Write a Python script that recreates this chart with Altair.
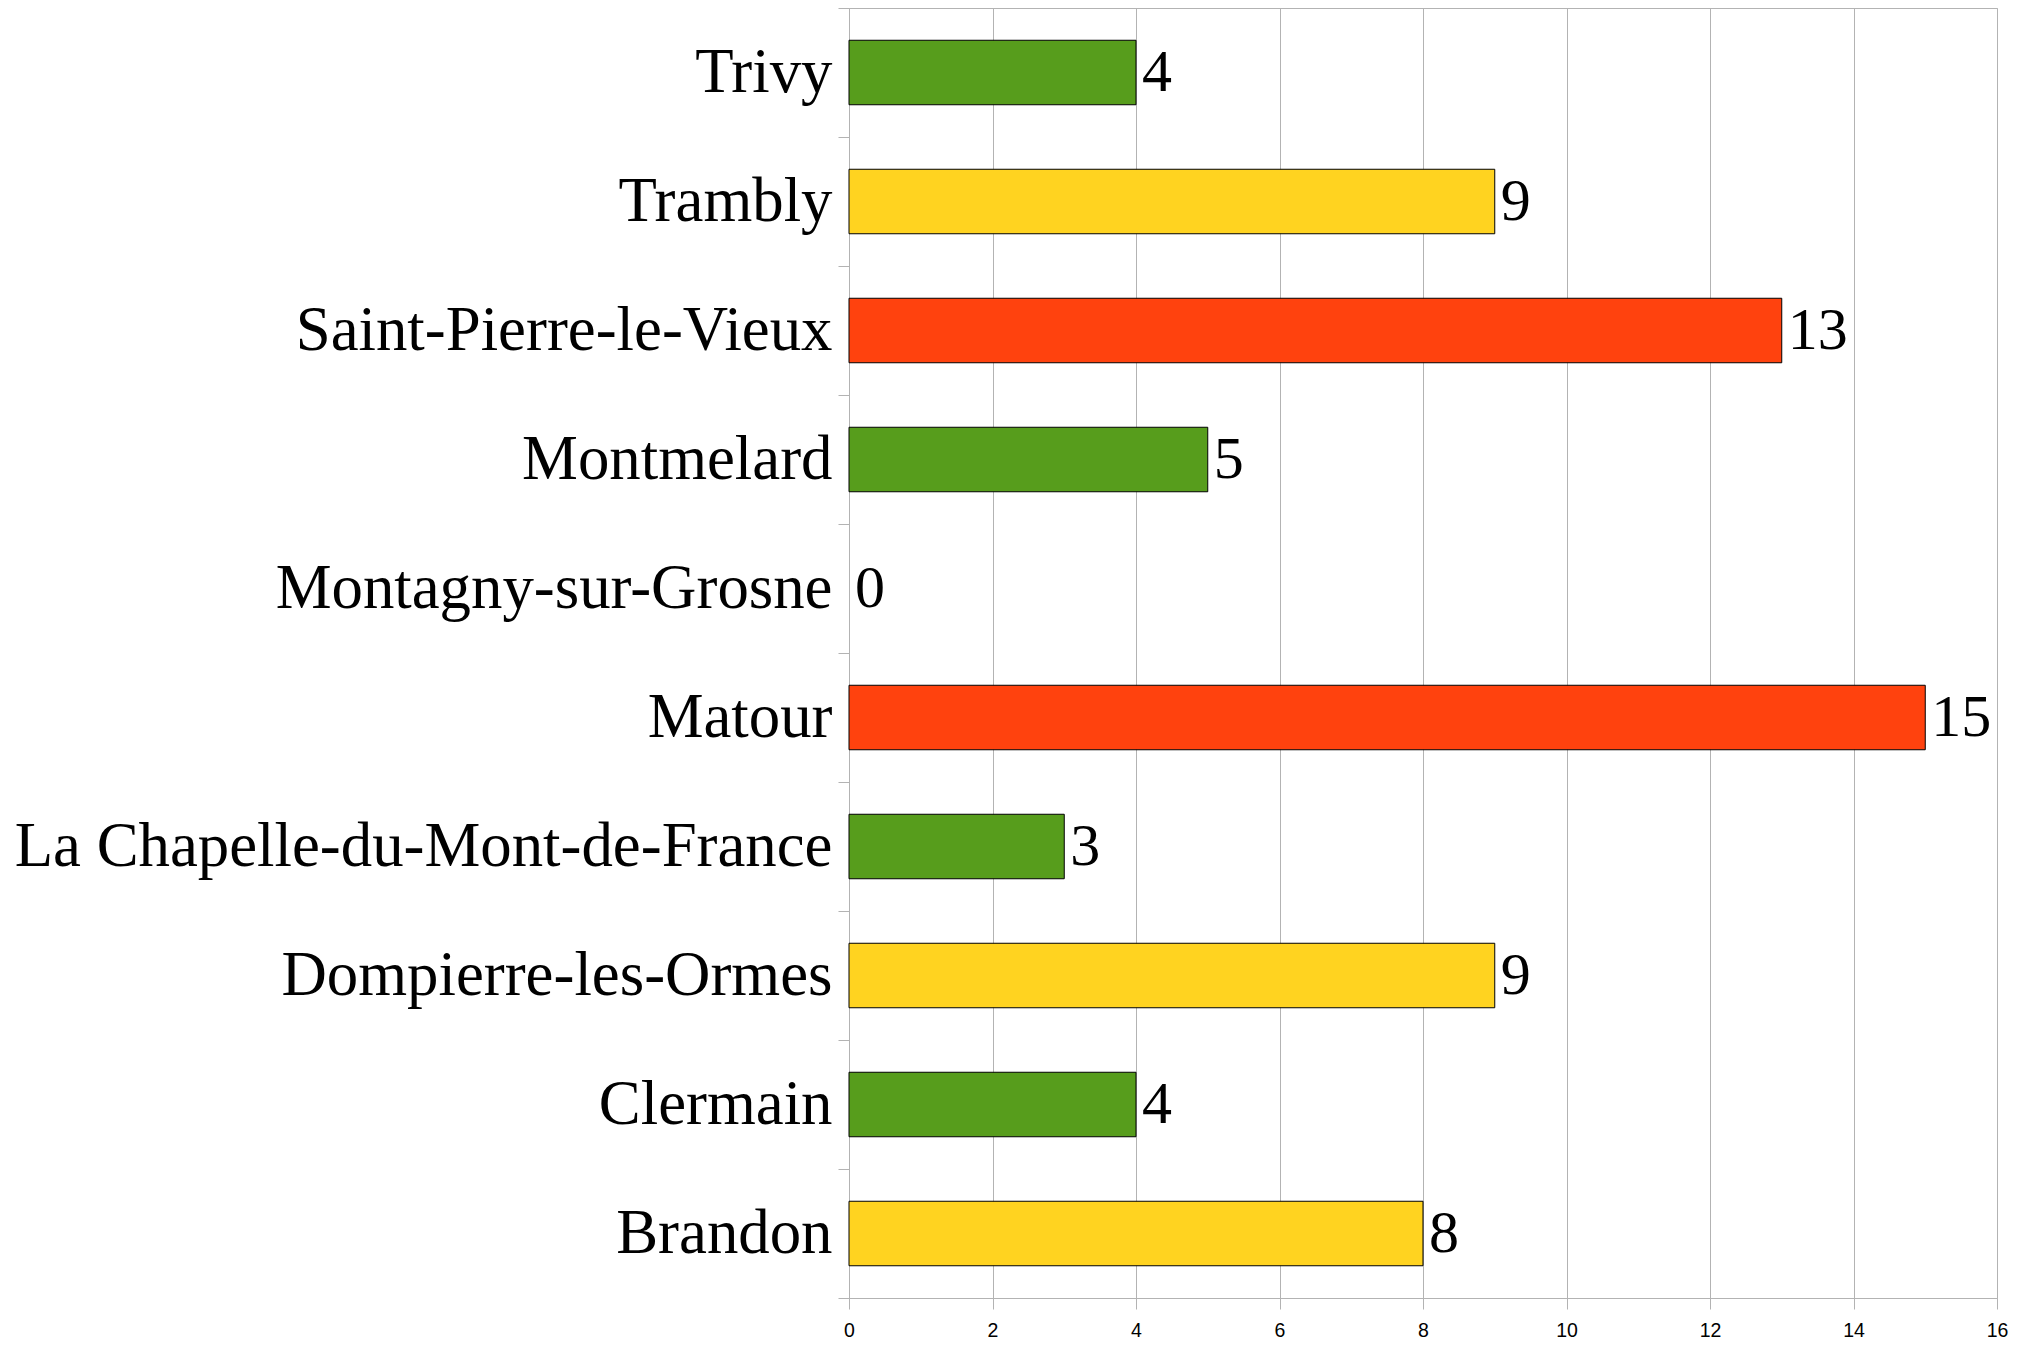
import altair as alt
import pandas as pd

communes = ["Trivy", "Trambly", "Saint-Pierre-le-Vieux", "Montmelard",
            "Montagny-sur-Grosne", "Matour", "La Chapelle-du-Mont-de-France",
            "Dompierre-les-Ormes", "Clermain", "Brandon"]
values = [4, 9, 13, 5, 0, 15, 3, 9, 4, 8]
levels = ["low", "mid", "high", "low", "low", "high", "low", "mid", "low", "mid"]

level_domain = ["low", "mid", "high"]
level_colors = ["#579d1c", "#ffd320", "#ff420e"]

df = pd.DataFrame({"commune": communes, "value": values, "level": levels})

grey = "#b3b3b3"

base = alt.Chart(df).encode(
    y=alt.Y("commune:N", sort=communes, title=None,
            scale=alt.Scale(paddingInner=0, paddingOuter=0),
            axis=alt.Axis(labelFont="Liberation Serif", labelFontSize=62.8,
                          labelColor="black", labelPadding=6, tickSize=11,
                          tickColor=grey, domainColor=grey, tickBand="extent",
                          grid=False, labelLimit=2000)),
    x=alt.X("value:Q", title=None,
            scale=alt.Scale(domain=[0, 16], nice=False),
            axis=alt.Axis(values=list(range(0, 17, 2)), format="d",
                          labelFont="Liberation Sans", labelFlush=False,
                          labelOverlap=False,
                          labelFontSize=19.5, labelColor="black", labelPadding=12,
                          tickSize=11, tickColor=grey, domainColor=grey,
                          gridColor=grey, grid=True)),
)

bars = base.mark_bar(stroke="#000000", strokeWidth=1, height={"band": 0.5}).encode(
    color=alt.Color("level:N", scale=alt.Scale(domain=level_domain, range=level_colors),
                    legend=None),
).transform_filter(alt.datum.value > 0)

labels = base.mark_text(align="left", baseline="middle", dx=6,
                        font="Liberation Serif", fontSize=60, color="black").encode(
    text="value:Q",
)

chart = (bars + labels).properties(
    width=1148, height=1290,
    autosize=alt.AutoSizeParams(type="none"),
    padding={"left": 841, "top": 0, "right": 20, "bottom": 60},
).configure_view(stroke=grey, strokeWidth=1)

chart.save("out.html", embed_options={"renderer": "svg", "actions": False})
